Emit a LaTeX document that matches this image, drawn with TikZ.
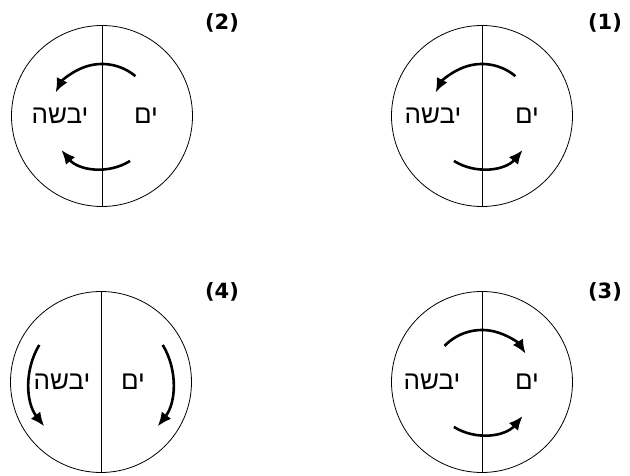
\documentclass[tikz,border=0pt]{standalone}
\usepackage{fontspec}
\setmainfont{DejaVu Sans}
\newfontfamily\hebfont[Script=Hebrew]{Liberation Sans}
\TeXXeTstate=1
\usepackage{tikz}
\usetikzlibrary{arrows.meta, calc}

\begin{document}
\begin{tikzpicture}[
    x=1pt, y=1pt,
    globe/.style={
        circle,
        draw,
        line width=0.8pt,
        minimum size=181pt,
        inner sep=0pt
    },
    divider/.style={line width=0.8pt},
    heb/.style={font=\hebfont\fontsize{26}{30}\selectfont, inner sep=1pt},
    num/.style={font=\bfseries\fontsize{21}{24}\selectfont, inner sep=1pt},
    flow/.style={-{Latex[length=14pt, width=12pt]}, line width=2.6pt}
]
\useasboundingbox (0,0) rectangle (630,476);

% top row
\node[globe] (c2) at (102,360) {};
\node[globe] (c1) at (482,360) {};
% bottom row
\node[globe] (c4) at (101,94) {};
\node[globe] (c3) at (482,94) {};

\node[num] (n2) at (222,453) {(2)};
\node[num] (n1) at (605,453) {(1)};
\node[num] (n4) at (222,184) {(4)};
\node[num] (n3) at (605,184) {(3)};

\draw[divider] (c1.north) -- (c1.south);
\draw[divider] (c2.north) -- (c2.south);
\draw[divider] (c3.north) -- (c3.south);
\draw[divider] (c4.north) -- (c4.south);

\node[heb] (land2) at ($(c2)+(-42,0)$) {\beginR יבשה\endR};
\node[heb] (sea2) at ($(c2)+(44,0)$) {\beginR ים\endR};
\node[heb] (land1) at ($(c1)+(-49,0)$) {\beginR יבשה\endR};
\node[heb] (sea1) at ($(c1)+(45,0)$) {\beginR ים\endR};
\node[heb] (land4) at ($(c4)+(-39,0)$) {\beginR יבשה\endR};
\node[heb] (sea4) at ($(c4)+(32,0)$) {\beginR ים\endR};
\node[heb] (land3) at ($(c3)+(-50,0)$) {\beginR יבשה\endR};
\node[heb] (sea3) at ($(c3)+(45,0)$) {\beginR ים\endR};

% (2): both towards the land
\draw[flow] ($(c2)+(50:52)$) arc[start angle=50, end angle=153, radius=52];
\draw[flow] ($(c2)+(-58:53)$) arc[start angle=-58, end angle=-140, radius=53];
% (1): round circulation
\draw[flow] ($(c1)+(50:52)$) arc[start angle=50, end angle=153, radius=52];
\draw[flow] ($(c1)+(-122:53)$) arc[start angle=-122, end angle=-40, radius=53];
% (3): both towards the sea
\draw[flow] ($(c3)+(136:52)$) arc[start angle=136, end angle=33, radius=52];
\draw[flow] ($(c3)+(-122:53)$) arc[start angle=-122, end angle=-40, radius=53];
% (4): both downwards
\draw[flow] ($(c4)+(149:72)$) arc[start angle=149, end angle=218, radius=72];
\draw[flow] ($(c4)+(31:72)$) arc[start angle=31, end angle=-38, radius=72];

\end{tikzpicture}
\end{document}
